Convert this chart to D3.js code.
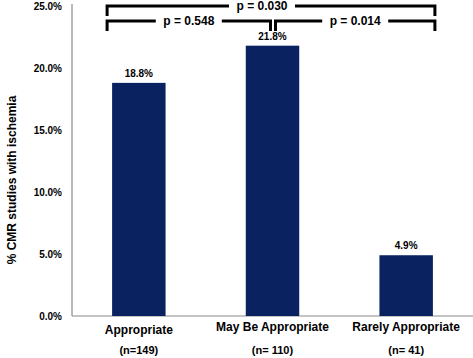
<!doctype html>
<html>
<head>
  <meta charset="UTF-8">
  <script src="https://cdn.jsdelivr.net/npm/d3@7"></script>
  <style>
    body { margin: 0; background: #fff; }
    text { font-family: "Liberation Sans", Arial, sans-serif; font-weight: bold; fill: #000; }
  </style>
</head>
<body>
<svg width="473" height="358"></svg>
<script>
var categories = ["Appropriate", "May Be Appropriate", "Rarely Appropriate"];
var sampleSizes = ["(n=149)", "(n= 110)", "(n= 41)"];
var values = [18.8, 21.8, 4.9];
var yTicks = [0, 5, 10, 15, 20, 25];
// comparisons: [from index, to index, label, level]
var pFrom = [0, 0, 1];
var pTo = [2, 1, 2];
var pLabels = ["p = 0.030", "p = 0.548", "p = 0.014"];

var svg = d3.select("svg");
var margin = {top: 6, right: 0, bottom: 42, left: 72};
var width = 473 - margin.left - margin.right;
var height = 358 - margin.top - margin.bottom;

var x = d3.scaleBand().domain(categories).range([0, width]).paddingInner(0.6).paddingOuter(0.3);
var y = d3.scaleLinear().domain([0, 25]).range([height, 0]);

var g = svg.append("g").attr("transform", "translate(" + margin.left + "," + margin.top + ")");

// axes lines
g.append("line").attr("x1", 0).attr("x2", 0).attr("y1", -2).attr("y2", height)
  .attr("stroke", "#8a8a8a").attr("stroke-width", 1.2);
g.append("line").attr("x1", 0).attr("x2", width).attr("y1", height).attr("y2", height)
  .attr("stroke", "#8a8a8a").attr("stroke-width", 1.2);

// y tick labels
g.selectAll(".ytick").data(yTicks).enter().append("text")
  .attr("x", -10).attr("y", function(d) { return y(d); })
  .attr("dy", "0.35em").attr("text-anchor", "end")
  .style("font-size", "10px")
  .text(function(d) { return d3.format(".1f")(d) + "%"; });

// y title
svg.append("text")
  .attr("transform", "translate(16,180) rotate(-90)")
  .attr("text-anchor", "middle")
  .style("font-size", "12px")
  .text("% CMR studies with ischemia");

// bars
g.selectAll(".bar").data(values).enter().append("rect")
  .attr("x", function(d, i) { return x(categories[i]); })
  .attr("y", function(d) { return y(d); })
  .attr("width", x.bandwidth())
  .attr("height", function(d) { return height - y(d); })
  .attr("fill", "#0b2260");

// value labels
g.selectAll(".val").data(values).enter().append("text")
  .attr("x", function(d, i) { return x(categories[i]) + x.bandwidth() / 2; })
  .attr("y", function(d) { return y(d) - 6; })
  .attr("text-anchor", "middle")
  .style("font-size", "10px")
  .text(function(d) { return d.toFixed(1) + "%"; });

// x labels
var xl = g.selectAll(".xl").data(categories).enter().append("text")
  .attr("x", function(d) { return x(d) + x.bandwidth() / 2; })
  .attr("text-anchor", "middle")
  .style("font-size", "12px");
xl.append("tspan").attr("x", function(d) { return x(d) + x.bandwidth() / 2; })
  .attr("y", function(d, i) { return i === 0 ? 334 - margin.top : 331 - margin.top; })
  .text(function(d) { return d; });
xl.append("tspan").attr("x", function(d) { return x(d) + x.bandwidth() / 2; })
  .attr("y", 354 - margin.top).style("font-size", "11px")
  .text(function(d, i) { return sampleSizes[i]; });

// significance brackets
var bx0 = x(categories[0]) - 5;
var bx2 = x(categories[2]) + x.bandwidth() + 2;
var mid = x(categories[1]) + x.bandwidth() / 2;
var left = [bx0, bx0, mid + 3];
var right = [bx2, mid - 2, bx2];
var level = [y(25), y(25) + 15, y(25) + 15];

pLabels.forEach(function(lab, i) {
  var x1 = left[i], x2 = right[i], yy = level[i];
  var tx = i === 0 ? 262 - margin.left : (x1 + x2) / 2;
  var tw = i === 0 ? 58 : 58;
  var bg = g.append("g");
  bg.append("path")
    .attr("d", "M" + x1 + "," + (yy + 10) + "V" + yy + "H" + (tx - tw / 2 - 4))
    .attr("fill", "none").attr("stroke", "#000").attr("stroke-width", 3);
  bg.append("path")
    .attr("d", "M" + (tx + tw / 2 + 4) + "," + yy + "H" + x2 + "V" + (yy + 10))
    .attr("fill", "none").attr("stroke", "#000").attr("stroke-width", 3);
  bg.append("text").attr("x", tx).attr("y", yy).attr("dy", "0.35em")
    .attr("text-anchor", "middle").style("font-size", "12px").text(lab);
});
</script>
</body>
</html>
